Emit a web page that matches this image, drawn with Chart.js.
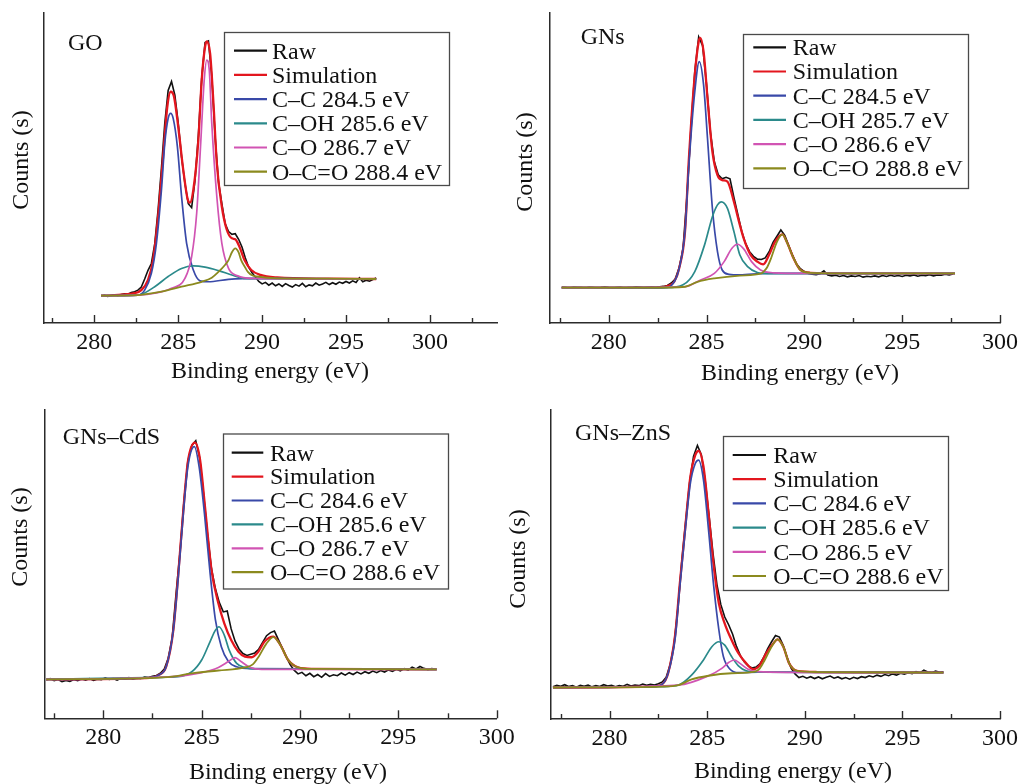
<!DOCTYPE html>
<html>
<head>
<meta charset="utf-8">
<title>C 1s XPS</title>
<script src="https://cdn.jsdelivr.net/npm/chart.js@4.4.1/dist/chart.umd.min.js"></script>
<style>
  html, body { margin: 0; padding: 0; background: #fff; }
  body { position: relative; width: 1023px; height: 784px; overflow: hidden; }
</style>
</head>
<body>
<script>
// ── axis ticks / titles ───────────────────────────────────────────────
const MAJOR_TICKS = [280, 285, 290, 295, 300];
const MINOR_TICKS = [277.5, 282.5, 287.5, 292.5, 297.5, 302.5];
const X_TITLE = 'Binding energy (eV)';
const Y_TITLE = 'Counts (s)';
const RAW_STEP = 0.2;

// ── GO ────────────────────────────────────────────────────────────────
const GO_NAMES = ['C–C 284.5 eV', 'C–OH 285.6 eV', 'C–O 286.7 eV', 'O–C=O 288.4 eV'];
const GO_RAW_START = 280.4;
const GO_RAW = [
  8.7, 8.9, 8.6, 8.9, 9.1, 8.8, 9.2, 9.4, 9.3, 9.8,
  10.1, 10.6, 11.6, 14.2, 17.0, 19.2, 25.5, 36.5, 50.0, 64.5,
  75.0, 77.9, 73.5, 64.5, 53.5, 45.0, 38.5, 37.2, 46.0, 60.5,
  79.0, 90.5, 91.0, 79.5, 60.0, 45.5, 38.5, 32.0, 29.5, 28.6,
  28.8, 27.0, 24.5, 21.0, 18.0, 16.2, 14.8, 13.4, 12.6, 13.1,
  12.2, 12.9, 12.0, 12.6, 11.8, 12.7, 12.1, 11.6, 12.4, 11.9,
  12.8, 11.7, 12.3, 12.0, 12.9, 12.2, 12.6, 13.1, 12.4, 13.0,
  12.5, 13.2, 12.8, 13.4, 12.9, 13.6, 13.1, 14.6, 13.3, 13.8,
  13.5, 14.0, 14.5,
];
const GO_SIM_X = [280.4, 282.4, 282.8, 283.2, 283.5, 283.8, 284.1, 284.35, 284.55, 284.75, 285.0, 285.3, 285.55, 285.7, 285.9, 286.2, 286.4, 286.6, 286.7, 286.9, 287.1, 287.3, 287.6, 287.9, 288.2, 288.4, 288.65, 288.95, 289.35, 289.9, 290.9, 293.9, 296.8];
const GO_SIM   = [8.8, 9.6, 10.6, 13.9, 20.3, 34.3, 53.7, 69.8, 74.6, 73.0, 63.3, 49.4, 40.2, 38.8, 42.9, 59.0, 78.4, 89.1, 90.8, 87.0, 70.9, 51.5, 37.5, 30.0, 27.3, 27.0, 24.6, 20.3, 17.1, 15.5, 14.7, 14.3, 14.2];
const GO_CC_X  = [280.4, 282.6, 283.0, 283.4, 283.7, 284.0, 284.2, 284.4, 284.55, 284.7, 284.95, 285.2, 285.5, 285.9, 286.3, 286.8, 288.0, 289.9, 296.8];
const GO_CC    = [8.8, 9.0, 10.6, 16.0, 25.7, 42.9, 58.0, 66.0, 67.6, 66.0, 56.9, 40.8, 25.7, 17.1, 13.6, 13.3, 14.1, 14.4, 14.2];
const GO_COH_X = [280.4, 282.6, 283.6, 284.4, 285.2, 285.9, 286.6, 287.4, 288.2, 288.9, 289.9, 296.8];
const GO_COH   = [8.8, 9.0, 11.7, 15.0, 17.6, 18.4, 18.0, 16.9, 15.5, 14.4, 14.3, 14.2];
const GO_CO_X  = [280.4, 282.6, 283.6, 284.6, 285.4, 285.8, 286.1, 286.35, 286.55, 286.7, 286.85, 287.0, 287.3, 287.6, 288.0, 288.55, 289.35, 296.8];
const GO_CO    = [8.8, 9.0, 9.6, 11.2, 14.4, 21.4, 35.4, 59.0, 78.4, 84.8, 81.6, 64.4, 40.8, 25.7, 17.6, 15.2, 14.4, 14.2];
const GO_OCO_X = [280.4, 282.6, 284.0, 285.2, 286.4, 287.0, 287.4, 287.8, 288.0, 288.2, 288.4, 288.6, 288.75, 289.0, 289.15, 289.4, 289.7, 290.9, 293.9, 296.8];
const GO_OCO   = [8.8, 9.0, 10.1, 11.7, 13.3, 14.6, 16.5, 18.8, 20.3, 22.8, 24.1, 22.8, 20.3, 17.8, 16.5, 15.4, 15.0, 14.4, 14.3, 14.2];

// ── GNs ───────────────────────────────────────────────────────────────
const GN_NAMES = ['C–C 284.5 eV', 'C–OH 285.7 eV', 'C–O 286.6 eV', 'O–C=O 288.8 eV'];
const GN_RAW_START = 277.6;
const GN_RAW = [
  11.5, 11.4, 11.3, 11.5, 11.4, 11.4, 11.3, 11.5, 11.4, 11.3,
  11.4, 11.6, 11.4, 11.3, 11.4, 11.5, 11.3, 11.4, 11.4, 11.6,
  11.5, 11.4, 11.5, 11.6, 11.5, 11.7, 11.8, 12.1, 12.9, 14.2,
  17.8, 24.0, 41.0, 62.5, 81.0, 92.3, 89.5, 77.0, 61.5, 52.0,
  47.8, 46.5, 47.0, 46.5, 40.5, 35.0, 29.5, 25.6, 23.0, 21.5,
  20.6, 20.5, 21.0, 23.0, 26.0, 28.0, 30.0, 28.3, 25.0, 21.8,
  19.0, 17.5, 16.6, 16.0, 15.7, 15.6, 15.9, 16.8, 15.5, 15.2,
  15.4, 15.0, 15.3, 14.9, 15.2, 15.0, 15.3, 14.8, 15.1, 14.9,
  15.2, 14.9, 15.3, 15.0, 15.4, 15.1, 15.3, 15.0, 15.4, 15.2,
  15.5, 15.1, 15.4, 15.3, 15.6, 15.2, 15.5, 15.4, 15.7, 15.5,
  15.8,
];
const GN_SIM_X = [277.6, 282.3, 283.0, 283.35, 283.6, 283.9, 284.1, 284.4, 284.6, 284.68, 284.85, 285.05, 285.3, 285.56, 285.8, 286.07, 286.4, 286.66, 286.9, 287.25, 287.6, 287.9, 288.2, 288.5, 288.88, 289.1, 289.45, 289.8, 290.3, 294.2, 297.7];
const GN_SIM   = [11.4, 11.4, 11.9, 13.3, 17.6, 29.5, 53.1, 80.0, 90.8, 92.0, 87.5, 72.5, 55.3, 47.7, 46.1, 45.6, 39.1, 32.7, 27.3, 22.0, 19.8, 18.9, 22.0, 26.2, 28.6, 26.2, 20.9, 17.1, 16.2, 16.0, 16.0];
const GN_CC_X  = [277.6, 282.85, 283.3, 283.6, 283.9, 284.1, 284.4, 284.63, 284.85, 285.05, 285.3, 285.56, 285.8, 286.15, 286.7, 288.0, 297.7];
const GN_CC    = [11.4, 11.4, 12.8, 17.6, 29.5, 51.0, 74.6, 84.3, 76.8, 59.6, 37.0, 23.0, 17.1, 15.7, 15.5, 16.0, 16.0];
const GN_COH_X = [277.6, 283.0, 283.8, 284.4, 284.9, 285.3, 285.56, 285.75, 286.07, 286.4, 286.7, 287.1, 287.6, 288.1, 297.7];
const GN_COH   = [11.4, 11.4, 12.3, 16.6, 25.2, 34.3, 38.1, 39.1, 37.0, 29.5, 22.0, 18.2, 16.3, 15.9, 16.0];
const GN_CO_X  = [277.6, 283.9, 284.7, 285.4, 285.9, 286.3, 286.58, 286.9, 287.3, 287.76, 288.4, 290.1, 297.7];
const GN_CO    = [11.4, 11.7, 13.9, 16.0, 19.8, 24.1, 25.4, 23.9, 19.8, 17.1, 16.2, 16.0, 16.0];
const GN_OCO_X = [277.6, 282.3, 283.9, 284.54, 285.4, 286.7, 287.8, 287.95, 288.1, 288.3, 288.6, 288.88, 289.1, 289.45, 289.8, 290.3, 294.2, 297.7];
const GN_OCO   = [11.4, 11.4, 11.7, 13.3, 14.4, 15.3, 16.0, 16.8, 18.0, 20.9, 26.2, 28.6, 26.2, 20.9, 17.1, 16.2, 16.0, 16.0];

// ── GNs–CdS ───────────────────────────────────────────────────────────
const CD_NAMES = ['C–C 284.6 eV', 'C–OH 285.6 eV', 'C–O 286.7 eV', 'O–C=O 288.6 eV'];
const CD_RAW_START = 277.1;
const CD_RAW = [
  12.4, 12.9, 12.2, 12.6, 11.9, 12.3, 12.0, 12.6, 12.2, 12.8,
  12.4, 12.9, 12.3, 12.7, 12.5, 13.1, 12.6, 12.9, 12.4, 13.0,
  12.7, 13.2, 12.8, 13.1, 12.9, 13.4, 13.2, 13.6, 13.9, 14.6,
  16.0, 19.5, 26.0, 40.5, 54.0, 70.5, 83.5, 88.5, 90.0, 84.5,
  72.5, 59.5, 48.5, 42.0, 37.5, 34.5, 34.8, 29.0, 25.0, 22.5,
  21.0, 20.4, 20.8, 21.2, 22.4, 24.6, 26.8, 27.8, 28.3, 25.5,
  22.8, 20.0, 17.4, 15.6, 14.4, 14.9, 13.8, 14.6, 13.5, 14.2,
  13.3, 14.5, 13.6, 14.1, 13.8, 14.7, 14.0, 14.8, 14.2, 15.0,
  14.4, 15.1, 14.6, 15.3, 14.8, 15.5, 15.0, 15.7, 15.2, 15.9,
  15.4, 16.1, 15.6, 16.6, 16.0, 16.8, 16.2, 15.8, 16.1, 15.9,
];
const CD_SIM_X = [277.1, 282.1, 282.8, 283.2, 283.56, 283.8, 284.07, 284.3, 284.66, 284.92, 285.17, 285.5, 285.85, 286.15, 286.5, 286.87, 287.2, 287.54, 287.88, 288.2, 288.65, 289.0, 289.4, 289.9, 290.6, 296.95];
const CD_SIM   = [12.6, 13.0, 14.0, 16.8, 28.6, 45.9, 67.6, 83.2, 89.4, 83.8, 68.6, 48.1, 37.3, 30.8, 25.4, 21.6, 20.0, 19.8, 21.6, 24.9, 26.5, 23.8, 18.9, 16.5, 16.0, 15.9];
const CD_CC_X  = [277.1, 282.1, 282.8, 283.2, 283.56, 283.8, 284.07, 284.3, 284.63, 284.87, 285.14, 285.43, 285.7, 286.0, 286.36, 286.78, 287.5, 296.95];
const CD_CC    = [12.6, 13.0, 14.0, 16.8, 28.6, 44.9, 66.5, 81.6, 88.1, 81.6, 66.5, 47.0, 31.9, 23.2, 18.4, 16.7, 16.1, 15.9];
const CD_COH_X = [277.1, 283.0, 283.8, 284.5, 285.0, 285.43, 285.7, 285.88, 286.15, 286.4, 286.78, 287.2, 287.9, 296.95];
const CD_COH   = [12.6, 13.3, 13.5, 15.1, 18.9, 24.9, 28.6, 29.7, 27.0, 22.1, 17.8, 16.5, 16.0, 15.9];
const CD_CO_X  = [277.1, 283.5, 285.0, 285.85, 286.36, 286.7, 287.0, 287.46, 288.05, 296.95];
const CD_CO    = [12.6, 13.5, 14.8, 16.5, 18.4, 19.7, 18.4, 16.5, 15.9, 15.9];
const CD_OCO_X = [277.1, 282.1, 283.5, 284.5, 285.85, 287.2, 287.6, 287.9, 288.3, 288.65, 289.0, 289.4, 289.9, 290.6, 296.95];
const CD_OCO   = [12.6, 13.0, 13.5, 14.6, 15.5, 16.5, 17.5, 20.0, 24.3, 26.3, 23.8, 18.9, 16.5, 16.0, 15.9];

// ── GNs–ZnS ───────────────────────────────────────────────────────────
const ZN_NAMES = ['C–C 284.6 eV', 'C–OH 285.6 eV', 'C–O 286.5 eV', 'O–C=O 288.6 eV'];
const ZN_RAW_START = 277.1;
const ZN_RAW = [
  10.4, 10.9, 10.6, 11.1, 10.5, 10.8, 10.3, 10.9, 10.6, 11.0,
  10.4, 10.8, 10.5, 11.1, 10.7, 10.9, 10.4, 10.8, 10.6, 11.2,
  10.7, 11.0, 10.8, 11.3, 10.9, 11.2, 11.0, 11.4, 12.0, 13.5,
  17.5, 24.0, 36.0, 51.0, 64.0, 76.5, 85.0, 88.5, 85.5, 77.0,
  65.5, 53.5, 43.5, 37.0, 33.0, 30.5, 27.5, 23.5, 20.5, 18.5,
  17.2, 16.5, 16.8, 17.8, 20.0, 22.8, 25.0, 27.0, 26.5, 23.8,
  19.8, 16.5, 14.6, 13.4, 13.8, 13.2, 13.7, 13.1, 13.6, 13.0,
  13.5, 13.9, 13.2, 13.6, 13.0, 13.4, 12.9, 13.5, 13.1, 13.7,
  13.4, 14.0, 13.6, 14.2, 13.8, 14.4, 14.0, 14.6, 14.2, 14.8,
  14.5, 15.0, 14.7, 15.3, 14.9, 15.8, 15.2, 15.0, 15.5, 15.1,
  15.3,
];
const ZN_SIM_X = [277.1, 282.2, 282.7, 283.0, 283.37, 283.6, 283.88, 284.14, 284.39, 284.56, 284.81, 285.07, 285.32, 285.6, 285.9, 286.25, 286.6, 287.0, 287.35, 287.7, 288.03, 288.4, 288.6, 288.9, 289.2, 289.6, 290.66, 297.1];
const ZN_SIM   = [10.2, 10.5, 11.3, 14.8, 27.7, 43.9, 62.2, 78.4, 85.4, 86.8, 81.7, 66.6, 50.4, 37.4, 30.9, 25.6, 21.3, 18.0, 16.1, 17.5, 21.3, 24.5, 25.8, 23.4, 18.0, 15.6, 15.2, 15.0];
const ZN_CC_X  = [277.1, 282.2, 282.7, 283.0, 283.37, 283.6, 283.88, 284.14, 284.39, 284.56, 284.81, 285.07, 285.32, 285.6, 285.83, 286.17, 286.6, 287.6, 297.1];
const ZN_CC    = [10.2, 10.5, 11.3, 14.8, 26.6, 42.8, 61.2, 76.3, 82.7, 83.8, 77.4, 61.2, 43.9, 28.8, 20.2, 16.1, 15.0, 15.2, 15.0];
const ZN_COH_X = [277.1, 282.7, 283.54, 284.2, 284.81, 285.24, 285.6, 285.9, 286.25, 286.6, 287.0, 287.6, 297.1];
const ZN_COH   = [10.2, 10.5, 11.0, 14.2, 19.1, 23.4, 25.0, 23.9, 20.2, 17.2, 15.6, 15.2, 15.0];
const ZN_CO_X  = [277.1, 283.54, 285.07, 285.75, 286.1, 286.39, 286.68, 287.1, 287.6, 289.3, 297.1];
const ZN_CO    = [10.2, 11.0, 14.0, 16.4, 18.3, 19.1, 18.0, 16.1, 15.3, 15.1, 15.0];
const ZN_OCO_X = [277.1, 282.7, 283.54, 284.2, 285.07, 286.25, 287.44, 287.7, 287.95, 288.3, 288.6, 288.9, 289.2, 289.6, 290.66, 297.1];
const ZN_OCO   = [10.2, 10.5, 11.0, 12.8, 14.0, 14.8, 15.3, 16.4, 19.1, 23.4, 25.8, 23.4, 18.0, 15.6, 15.2, 15.0];

// ── estilo ────────────────────────────────────────────────────────────
const FONT = '"Liberation Serif", "Times New Roman", Times, serif';
const FS   = 24;
const INK  = '#111111';
const AXIS = '#2b2b2b';
const C = {
  raw: '#111111',
  sim: '#e3161e',
  cc:  '#3949a8',
  coh: '#2b8a8b',
  co:  '#d154b3',
  oco: '#8b8a1e',
};

// page coordinates (px) for every panel
const PANELS = [
  { title: 'GO', names: GO_NAMES, xRange: [277, 304],
    canvas: [0, 0, 520, 392], area: [44, 13, 497, 323],
    label: [68, 50], xTitle: [270, 378], yTitle: [28, 160],
    legend: { box: [224.5, 32.5, 449.5, 185.5], line: [234, 267], text: 272, y0: 50.7, gap: 24.2 },
    raw: [GO_RAW_START, GO_RAW], sim: [GO_SIM_X, GO_SIM], cc: [GO_CC_X, GO_CC],
    coh: [GO_COH_X, GO_COH], co: [GO_CO_X, GO_CO], oco: [GO_OCO_X, GO_OCO] },
  { title: 'GNs', names: GN_NAMES, xRange: [277, 300],
    canvas: [500, 0, 523, 392], area: [550, 13, 1002.7, 323],
    label: [580.7, 44.3], xTitle: [800, 380], yTitle: [532, 162],
    legend: { box: [743.5, 34.5, 968.5, 188.5], line: [753.3, 786], text: 792.7, y0: 47.3, gap: 24.2 },
    raw: [GN_RAW_START, GN_RAW], sim: [GN_SIM_X, GN_SIM], cc: [GN_CC_X, GN_CC],
    coh: [GN_COH_X, GN_COH], co: [GN_CO_X, GN_CO], oco: [GN_OCO_X, GN_OCO] },
  { title: 'GNs–CdS', names: CD_NAMES, xRange: [277, 300],
    canvas: [0, 392, 520, 392], area: [44.3, 410, 496.7, 718.3],
    label: [62.7, 444.3], xTitle: [288, 779], yTitle: [27, 537],
    legend: { box: [223.5, 434, 448.5, 589], line: [231.7, 263.3], text: 270, y0: 452.7, gap: 23.9 },
    raw: [CD_RAW_START, CD_RAW], sim: [CD_SIM_X, CD_SIM], cc: [CD_CC_X, CD_CC],
    coh: [CD_COH_X, CD_COH], co: [CD_CO_X, CD_CO], oco: [CD_OCO_X, CD_OCO] },
  { title: 'GNs–ZnS', names: ZN_NAMES, xRange: [277, 300],
    canvas: [500, 392, 523, 392], area: [551, 410, 1003.3, 719],
    label: [575, 440], xTitle: [793, 777.7], yTitle: [525, 559],
    legend: { box: [723.5, 436.5, 948.5, 590.5], line: [732.7, 766], text: 773.3, y0: 455, gap: 24.2 },
    raw: [ZN_RAW_START, ZN_RAW], sim: [ZN_SIM_X, ZN_SIM], cc: [ZN_CC_X, ZN_CC],
    coh: [ZN_COH_X, ZN_COH], co: [ZN_CO_X, ZN_CO], oco: [ZN_OCO_X, ZN_OCO] },
];

const pts    = ([xs, ys]) => xs.map((x, i) => ({ x, y: ys[i] }));
const rawPts = ([x0, ys]) => ys.map((y, i) => ({ x: +(x0 + i * RAW_STEP).toFixed(1), y }));

// inward ticks, panel label, axis titles and boxed legend
function makeDecor(P) {
  const [cl, ct] = P.canvas;
  return {
    id: 'decor',
    afterDraw(chart) {
      const { ctx } = chart;
      const xs = chart.scales.x;
      const b  = chart.chartArea.bottom;
      ctx.save();

      ctx.strokeStyle = AXIS;
      ctx.lineWidth = 1.4;
      const tick = (v, len) => {
        if (v < xs.min || v > xs.max) return;
        const p = Math.round(xs.getPixelForValue(v)) + 0.5;
        ctx.beginPath(); ctx.moveTo(p, b); ctx.lineTo(p, b - len); ctx.stroke();
      };
      MAJOR_TICKS.forEach(v => tick(v, 8));
      MINOR_TICKS.forEach(v => tick(v, 5));

      ctx.fillStyle = INK;
      ctx.font = `${FS}px ${FONT}`;
      ctx.textBaseline = 'alphabetic';
      ctx.textAlign = 'left';
      ctx.fillText(P.title, P.label[0] - cl, P.label[1] - ct);
      ctx.textAlign = 'center';
      ctx.fillText(X_TITLE, P.xTitle[0] - cl, P.xTitle[1] - ct);
      ctx.save();
      ctx.translate(P.yTitle[0] - cl, P.yTitle[1] - ct);
      ctx.rotate(-Math.PI / 2);
      ctx.fillText(Y_TITLE, 0, 0);
      ctx.restore();

      const g = P.legend;
      const [bl, bt, br, bb] = g.box;
      ctx.fillStyle = '#fff';
      ctx.fillRect(bl - cl, bt - ct, br - bl, bb - bt);
      ctx.strokeStyle = '#4a4a4a';
      ctx.lineWidth = 1.3;
      ctx.strokeRect(bl - cl, bt - ct, br - bl, bb - bt);
      ctx.textAlign = 'left';
      chart.data.datasets.forEach((d, i) => {
        const y = g.y0 + i * g.gap - ct;
        ctx.strokeStyle = d.borderColor;
        ctx.lineWidth = 2.2;
        ctx.beginPath(); ctx.moveTo(g.line[0] - cl, y); ctx.lineTo(g.line[1] - cl, y); ctx.stroke();
        ctx.fillStyle = INK;
        ctx.fillText(d.label, g.text - cl, y + 7.8);
      });
      ctx.restore();
    },
  };
}

function buildPanel(P) {
  const [cl, ct, cw, ch] = P.canvas;
  const [al, at, ar, ab] = P.area;
  const cv = document.createElement('canvas');
  cv.width = cw; cv.height = ch;
  cv.style.cssText = `position:absolute;left:${cl}px;top:${ct}px;width:${cw}px;height:${ch}px`;
  document.body.appendChild(cv);

  const line = (label, data, color, width, order, smooth) => ({
    label, data, order,
    borderColor: color, backgroundColor: color, borderWidth: width,
    pointRadius: 0, fill: false, tension: 0,
    cubicInterpolationMode: smooth ? 'monotone' : 'default',
  });

  return new Chart(cv.getContext('2d'), {
    type: 'line',
    data: {
      datasets: [
        line('Raw',        rawPts(P.raw), C.raw, 1.6, 6, false),
        line('Simulation', pts(P.sim),    C.sim, 2.3, 5, true),
        line(P.names[0],   pts(P.cc),     C.cc,  1.7, 4, true),
        line(P.names[1],   pts(P.coh),    C.coh, 1.7, 3, true),
        line(P.names[2],   pts(P.co),     C.co,  1.7, 2, true),
        line(P.names[3],   pts(P.oco),    C.oco, 1.8, 1, true),
      ],
    },
    options: {
      responsive: false, animation: false, events: [],
      layout: { padding: { left: 0, top: at - ct, right: cl + cw - ar, bottom: 0 } },
      plugins: { legend: { display: false }, tooltip: { enabled: false } },
      scales: {
        x: {
          type: 'linear', min: P.xRange[0], max: P.xRange[1],
          grid: { display: false, drawTicks: false },
          border: { display: true, color: AXIS, width: 1.5 },
          ticks: { font: { family: FONT, size: FS }, color: INK, padding: 5, maxRotation: 0, autoSkip: false },
          afterBuildTicks: s => { s.ticks = MAJOR_TICKS.filter(v => v >= s.min && v <= s.max).map(v => ({ value: v })); },
          afterFit: s => { s.height = ct + ch - ab; },
        },
        y: {
          min: 0, max: 100,
          grid: { display: false, drawTicks: false },
          border: { display: true, color: AXIS, width: 1.5 },
          ticks: { display: false },
          afterFit: s => { s.width = al - cl; },
        },
      },
    },
    plugins: [makeDecor(P)],
  });
}

PANELS.forEach(buildPanel);
</script>
</body>
</html>
